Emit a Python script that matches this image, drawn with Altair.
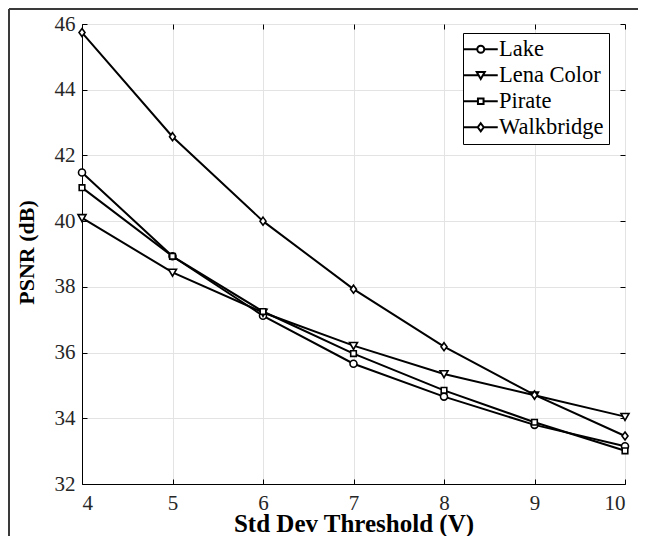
import altair as alt
import pandas as pd

thresholds = [4, 5, 6, 7, 8, 9, 10]
series_names = ["Lake", "Lena Color", "Pirate", "Walkbridge"]
lake = [41.48, 38.93, 37.12, 35.66, 34.66, 33.80, 33.15]
lena_color = [40.10, 38.44, 37.22, 36.21, 35.35, 34.70, 34.05]
pirate = [41.02, 38.93, 37.25, 35.97, 34.85, 33.88, 33.01]
walkbridge = [45.74, 42.57, 40.00, 37.93, 36.18, 34.71, 33.46]

x_ticks = [4, 5, 6, 7, 8, 9, 10]
y_ticks = [32, 34, 36, 38, 40, 42, 44, 46]

rows = []
for name, vals in zip(series_names, [lake, lena_color, pirate, walkbridge]):
    for t, v in zip(thresholds, vals):
        rows.append({"t": t, "psnr": v, "series": name})
df = pd.DataFrame(rows)

FONT = "Liberation Serif"

# marker paths (plot)
marker_paths = [
    "M0.875,0A0.875,0.875,0,1,1,-0.875,0A0.875,0.875,0,1,1,0.875,0Z",
    "M-1,-0.8L1,-0.8L0,0.95Z",
    "M-0.7,-0.7H0.7V0.7H-0.7Z",
    "M0,-1L0.75,0L0,1L-0.75,0Z",
]
# legend paths: line + marker
legend_paths = [
    "M-3.4,0L-0.7,0M0.7,0L3.4,0M0.7,0A0.7,0.7,0,1,1,-0.7,0A0.7,0.7,0,1,1,0.7,0Z",
    "M-3.4,0L-0.43,0M0.43,0L3.4,0M-0.8,-0.65L0.8,-0.65L0,0.75Z",
    "M-3.4,0L-0.56,0M0.56,0L3.4,0M-0.56,-0.56L0.56,-0.56L0.56,0.56L-0.56,0.56Z",
    "M-3.4,0L-0.6,0M0.6,0L3.4,0M0,-0.8L0.6,0L0,0.8L-0.6,0Z",
]

xscale = alt.Scale(domain=[4, 10], nice=False, zero=False)
yscale = alt.Scale(domain=[32, 46], nice=False, zero=False)

main_x_axis = alt.Axis(
    orient="bottom", values=x_ticks, grid=True, gridColor="#e3e3e3", gridWidth=1,
    tickSize=0, domain=True, domainColor="black", labelFont=FONT, labelFontSize=21,
    labelColor="#262626", labelPadding=8, title="Std Dev Threshold (V)",
    titleFont=FONT, titleFontSize=25, titleFontWeight="bold", titleColor="black",
    titleBaseline="alphabetic", titleY=47, format="d",
)
main_y_axis = alt.Axis(
    orient="left", values=y_ticks, grid=True, gridColor="#e3e3e3", gridWidth=1,
    tickSize=0, domain=True, domainColor="black", labelFont=FONT, labelFontSize=21,
    labelColor="#262626", labelPadding=7, title="PSNR (dB)",
    titleFont=FONT, titleFontSize=22, titleFontWeight="bold", titleColor="black",
    titleBaseline="alphabetic", titleX=-49, titleY=228, format="d",
)

lines = alt.Chart(df).mark_line(color="black", strokeWidth=2).encode(
    x=alt.X("t:Q", scale=xscale, axis=main_x_axis),
    y=alt.Y("psnr:Q", scale=yscale, axis=main_y_axis),
    detail="series:N",
)

inner_top = alt.Axis(orient="top", values=x_ticks, offset=-5, tickSize=5, tickColor="black",
                     domain=False, labels=False, grid=False, title=None)
inner_right = alt.Axis(orient="right", values=y_ticks, offset=-5, tickSize=5, tickColor="black",
                       domain=False, labels=False, grid=False, title=None)
points = alt.Chart(df).mark_point(filled=True, fill="white", stroke="black", strokeWidth=1.6,
                                  size=64, opacity=1).encode(
    x=alt.X("t:Q", scale=xscale, axis=inner_top),
    y=alt.Y("psnr:Q", scale=yscale, axis=inner_right),
    shape=alt.Shape("series:N", scale=alt.Scale(domain=series_names, range=marker_paths), legend=None),
)

inner_bottom = alt.Axis(orient="bottom", values=x_ticks, offset=-5, tickSize=5, tickColor="black",
                        domain=False, labels=False, grid=False, title=None)
inner_left = alt.Axis(orient="left", values=y_ticks, offset=-5, tickSize=5, tickColor="black",
                      domain=False, labels=False, grid=False, title=None)
legend_layer = alt.Chart(df).mark_point(
    filled=False, color="black", strokeWidth=2, size=100, opacity=0
).encode(
    x=alt.X("t:Q", scale=xscale, axis=inner_bottom),
    y=alt.Y("psnr:Q", scale=yscale, axis=inner_left),
    shape=alt.Shape(
        "series:N",
        scale=alt.Scale(domain=series_names, range=legend_paths),
        legend=alt.Legend(
            orient="none", legendX=381, legendY=9, title=None, padding=5,
            strokeColor="black", fillColor="white", symbolSize=100, symbolStrokeWidth=2,
            symbolFillColor="white", symbolStrokeColor="black", symbolOpacity=1,
            symbolOffset=1.5, labelOffset=7, labelFont=FONT, labelFontSize=22.5,
            labelColor="black", rowPadding=3, labelLimit=300,
        ),
    ),
)

frame_top = alt.Chart(pd.DataFrame({"k": [0]})).mark_rule(color="#3a3a3a", strokeWidth=2).encode(
    x=alt.value(-73), x2=alt.value(556), y=alt.value(-15)
)
frame_left = alt.Chart(pd.DataFrame({"k": [0]})).mark_rule(color="#3a3a3a", strokeWidth=2).encode(
    x=alt.value(-73), y=alt.value(-15), y2=alt.value(540)
)

chart = alt.layer(lines, points, legend_layer, frame_top, frame_left).resolve_scale(
    shape="independent"
).resolve_axis(x="independent", y="independent").properties(
    width=543, height=460,
    autosize=alt.AutoSizeParams(type="none"),
    padding={"left": 74, "top": 16, "right": 15, "bottom": 52},
).configure_view(stroke="black", strokeWidth=1).configure(background="white")

chart.save("out.html", embed_options={"renderer": "svg", "actions": False})
